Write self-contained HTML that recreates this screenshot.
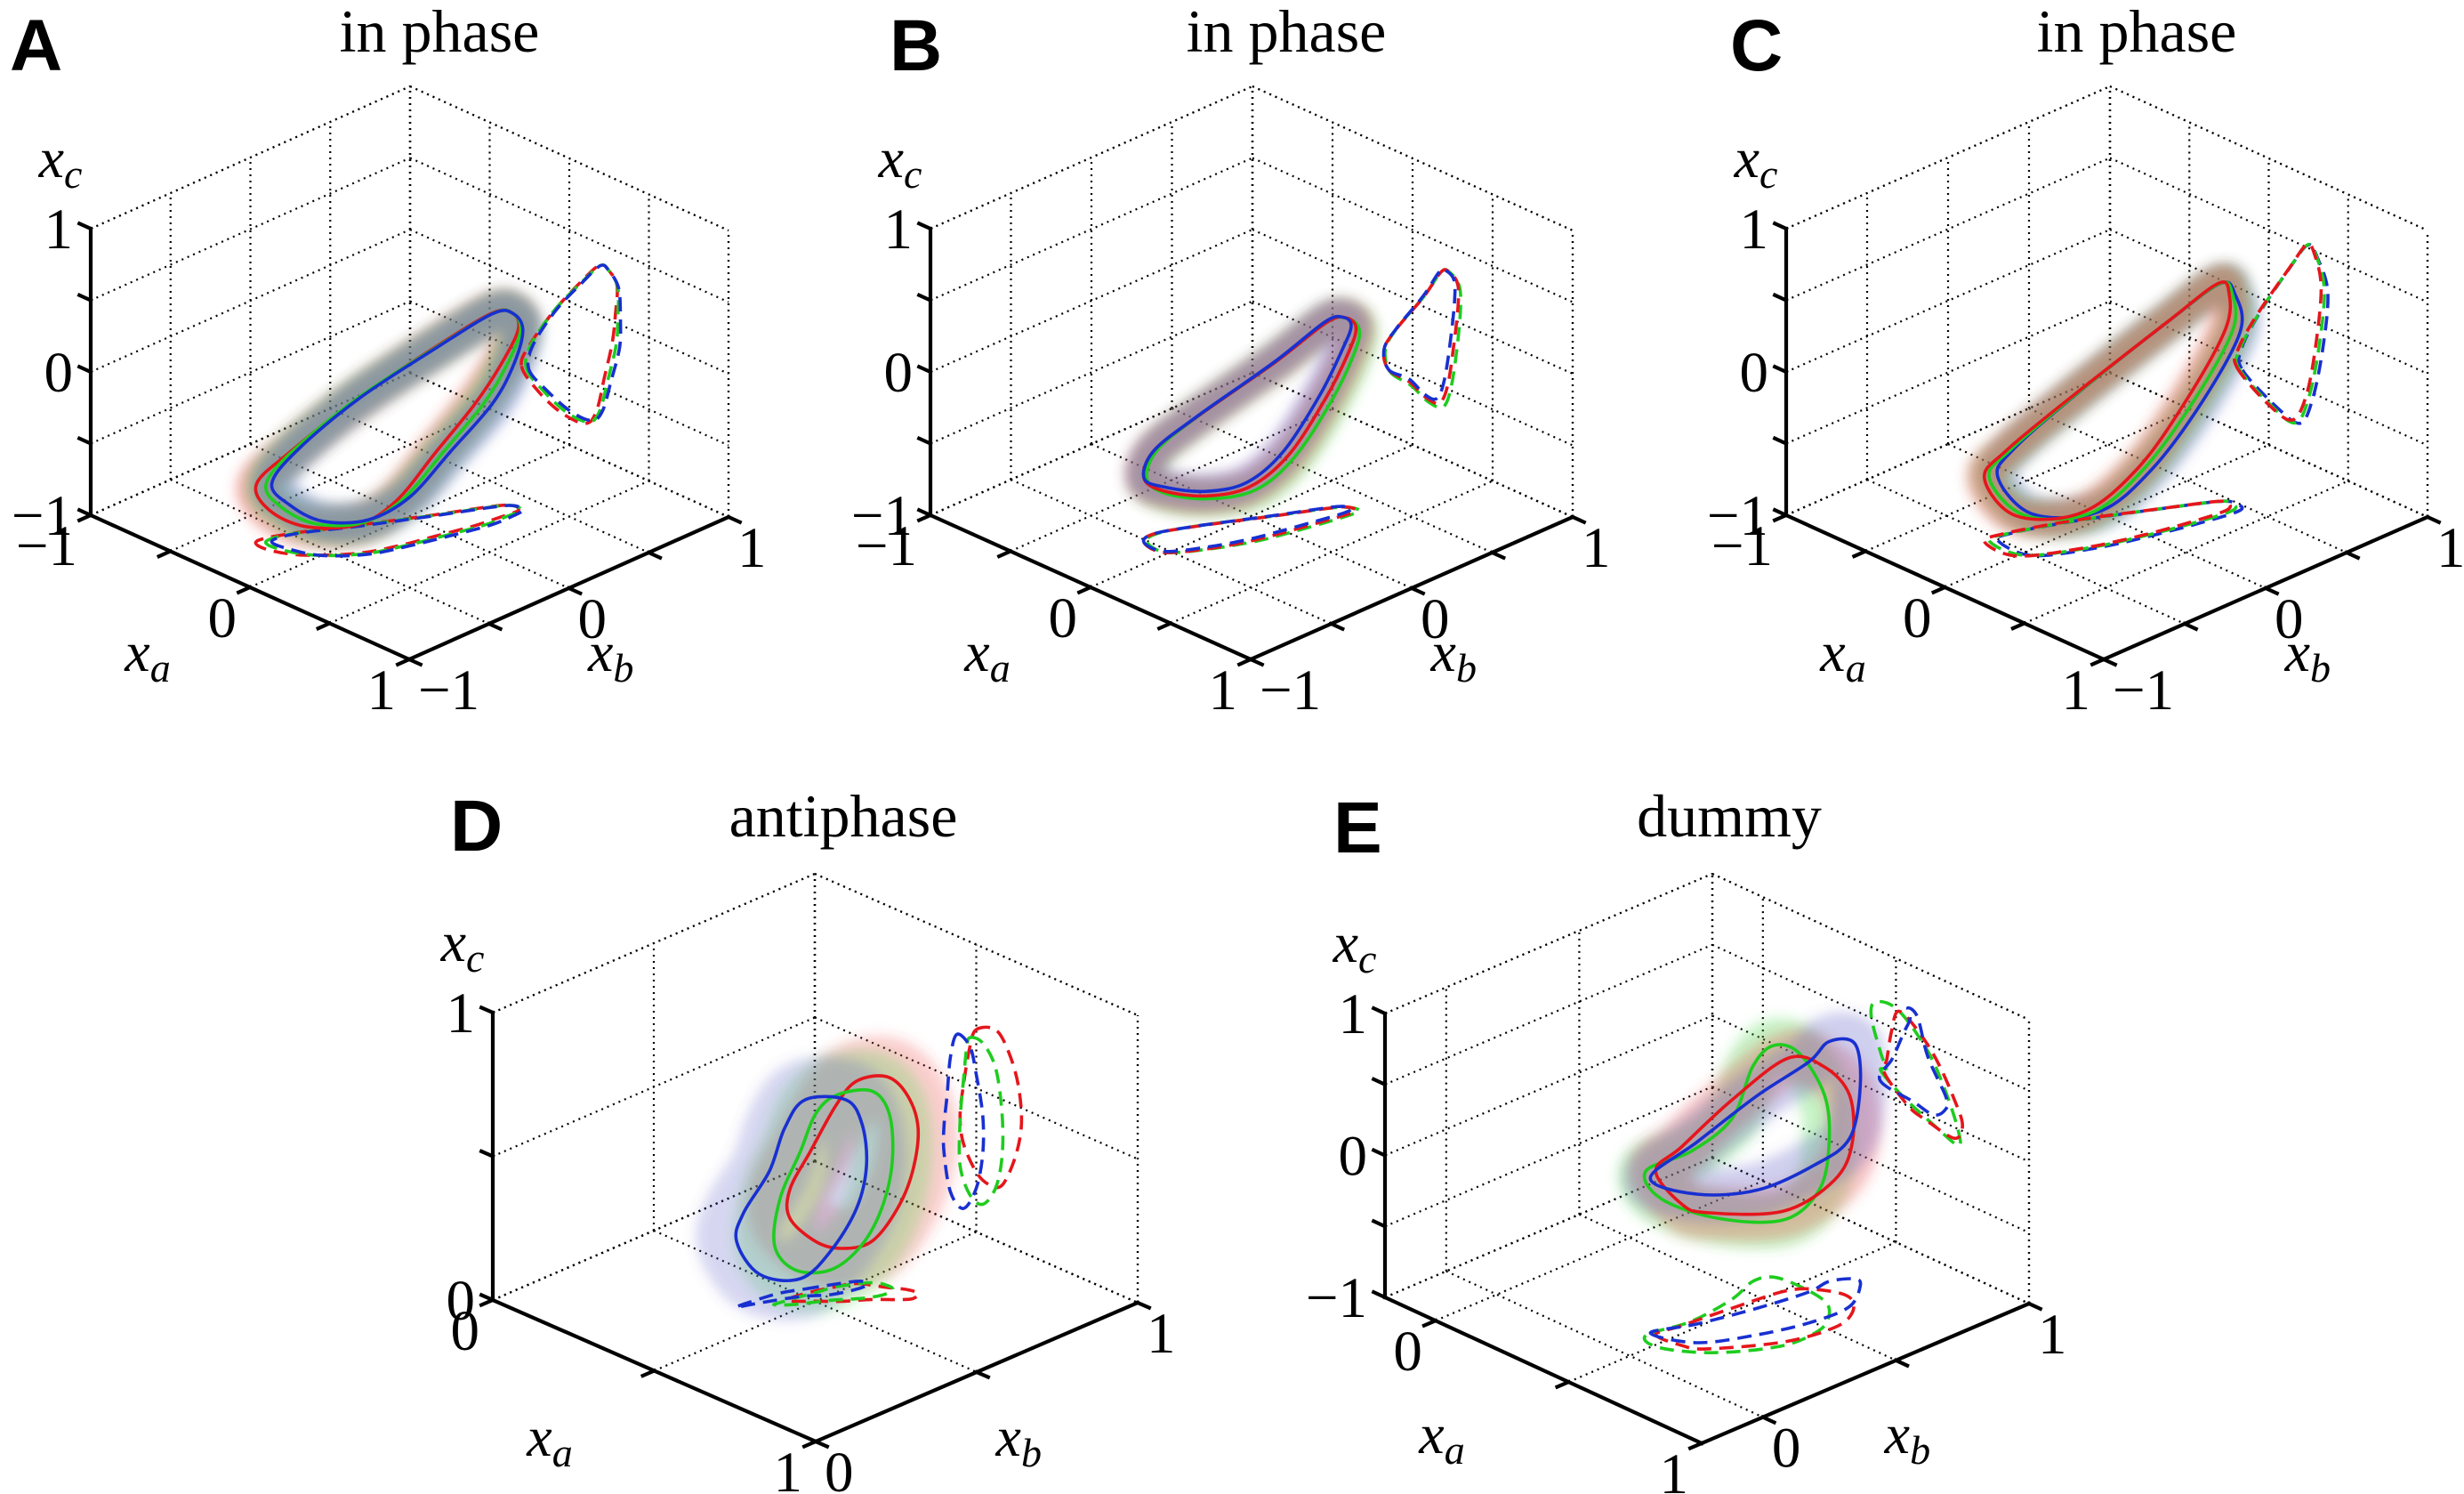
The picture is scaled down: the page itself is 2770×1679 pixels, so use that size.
<!DOCTYPE html>
<html><head><meta charset="utf-8">
<style>
html,body{margin:0;padding:0;background:#fff;}
svg{display:block;}
.tk{font-family:"Liberation Serif",serif;font-size:65px;fill:#000;}
.ttl{font-family:"Liberation Serif",serif;font-size:68px;fill:#000;}
.let{font-family:"Liberation Sans",sans-serif;font-weight:bold;font-size:82px;fill:#000;}
.ax{font-family:"Liberation Serif",serif;font-style:italic;font-size:64px;fill:#000;}
</style></head>
<body>
<svg id="fig" width="2770" height="1679" viewBox="0 0 2770 1679" xmlns="http://www.w3.org/2000/svg">
<defs><filter id="blur" filterUnits="userSpaceOnUse" x="0" y="0" width="2770" height="1679"><feGaussianBlur stdDeviation="7"/></filter></defs>
</svg>
<script>
// ---- data (state-space loops, units of each axis) ----
const A_blue_xa=[-0.254,-0.143,0.004,0.138,0.208,0.265,0.316,0.321,0.31,0.249,0.196,0.079,-0.088,-0.229];
const A_blue_xb=[-0.61,-0.61,-0.55,-0.395,-0.207,-0.006,0.2,0.325,0.4,0.4,0.324,0.089,-0.23,-0.476];
const A_blue_xc=[-0.6,-0.69,-0.76,-0.76,-0.66,-0.41,-0.16,0.04,0.25,0.34,0.35,0.17,-0.11,-0.42];
const A_red_xa=[-0.3,-0.2,-0.05,0.1,0.17,0.22,0.27,0.29,0.3,0.25,0.19,0.07,-0.1,-0.25];
const A_red_xb=[-0.66,-0.68,-0.6,-0.42,-0.25,-0.06,0.14,0.28,0.38,0.4,0.33,0.09,-0.23,-0.5];
const A_red_xc=[-0.6,-0.72,-0.8,-0.8,-0.68,-0.42,-0.15,0.06,0.26,0.34,0.35,0.17,-0.12,-0.43];
const A_green_xa=[-0.27,-0.17,-0.02,0.12,0.19,0.245,0.295,0.305,0.305,0.25,0.195,0.075,-0.095,-0.24];
const A_green_xb=[-0.63,-0.64,-0.57,-0.41,-0.23,-0.03,0.17,0.3,0.39,0.4,0.33,0.09,-0.23,-0.49];
const A_green_xc=[-0.6,-0.7,-0.78,-0.78,-0.67,-0.41,-0.15,0.05,0.25,0.34,0.35,0.17,-0.11,-0.42];

const B_blue_xa=[-0.149,-0.023,0.076,0.151,0.198,0.239,0.263,0.259,0.215,0.171,0.065,-0.102,-0.178];
const B_blue_xb=[-0.52,-0.52,-0.36,-0.18,0,0.185,0.305,0.361,0.354,0.287,0.075,-0.245,-0.43];
const B_blue_xc=[-0.55,-0.55,-0.61,-0.6,-0.45,-0.13,0.15,0.28,0.32,0.3,0.07,-0.24,-0.42];
const B_red_xa=[-0.15,-0.02,0.09,0.17,0.22,0.26,0.285,0.28,0.23,0.18,0.07,-0.1,-0.178];
const B_red_xb=[-0.52,-0.53,-0.37,-0.18,0.01,0.2,0.32,0.37,0.36,0.29,0.075,-0.245,-0.43];
const B_red_xc=[-0.55,-0.57,-0.63,-0.62,-0.47,-0.15,0.13,0.27,0.32,0.3,0.07,-0.24,-0.42];
const B_green_xa=[-0.14,-0.01,0.1,0.19,0.24,0.28,0.3,0.29,0.235,0.18,0.07,-0.1,-0.17];
const B_green_xb=[-0.51,-0.52,-0.36,-0.16,0.03,0.22,0.34,0.38,0.36,0.29,0.075,-0.24,-0.42];
const B_green_xc=[-0.56,-0.59,-0.65,-0.64,-0.48,-0.16,0.12,0.26,0.32,0.3,0.07,-0.24,-0.42];

const C_blue_xa=[-0.166,0.049,0.197,0.276,0.341,0.372,0.307,0.247,0.131,-0.063,-0.173];
const C_blue_xb=[-0.51,-0.506,-0.24,0.005,0.26,0.46,0.49,0.458,0.25,-0.13,-0.41];
const C_blue_xc=[-0.56,-0.71,-0.75,-0.54,-0.15,0.25,0.46,0.52,0.3,-0.12,-0.42];
const C_red_xa=[-0.2,0.0,0.15,0.24,0.3,0.33,0.29,0.24,0.13,-0.07,-0.19];
const C_red_xb=[-0.56,-0.56,-0.3,-0.04,0.21,0.41,0.47,0.45,0.25,-0.13,-0.43];
const C_red_xc=[-0.56,-0.72,-0.75,-0.52,-0.12,0.27,0.47,0.52,0.3,-0.12,-0.42];
const C_green_xa=[-0.19,0.02,0.17,0.255,0.32,0.35,0.3,0.245,0.13,-0.065,-0.18];
const C_green_xb=[-0.54,-0.53,-0.27,-0.02,0.235,0.435,0.48,0.455,0.25,-0.13,-0.42];
const C_green_xc=[-0.56,-0.72,-0.76,-0.53,-0.13,0.26,0.465,0.52,0.3,-0.12,-0.42];

const D_blue_xa=[0.44,0.48,0.5,0.52,0.52,0.5,0.46,0.42,0.4,0.4,0.41,0.42];
const D_blue_xb=[0.528,0.615,0.645,0.639,0.608,0.548,0.494,0.407,0.356,0.378,0.448,0.485];
const D_blue_xc=[0.658,0.636,0.548,0.415,0.281,0.152,0.062,0.1,0.229,0.318,0.434,0.57];
const D_red_xa=[0.5,0.56,0.6,0.63,0.64,0.62,0.58,0.54,0.5,0.46,0.45,0.46,0.48];
const D_red_xb=[0.628,0.662,0.686,0.689,0.662,0.635,0.595,0.541,0.501,0.461,0.471,0.525,0.585];
const D_red_xc=[0.704,0.733,0.676,0.575,0.444,0.317,0.202,0.184,0.208,0.289,0.378,0.49,0.632];
const D_green_xa=[0.48,0.52,0.56,0.58,0.58,0.56,0.52,0.48,0.45,0.45,0.46,0.47];
const D_green_xb=[0.585,0.655,0.67,0.659,0.626,0.582,0.528,0.458,0.424,0.441,0.494,0.531];
const D_green_xc=[0.666,0.667,0.599,0.45,0.302,0.183,0.106,0.12,0.206,0.362,0.505,0.622];

const E_blue_xa=[0.44,0.565,0.642,0.687,0.688,0.62,0.581,0.545,0.553,0.529,0.486];
const E_blue_xb=[0.137,0.186,0.339,0.505,0.638,0.746,0.765,0.704,0.619,0.452,0.265];
const E_blue_xc=[0.09,0.047,0.02,0.1,0.185,0.41,0.656,0.69,0.62,0.5,0.28];
const E_red_xa=[0.457,0.549,0.61,0.719,0.75,0.719,0.65,0.575,0.509,0.483,0.466];
const E_red_xb=[0.14,0.145,0.18,0.359,0.519,0.617,0.676,0.657,0.586,0.401,0.228];
const E_red_xc=[0.154,-0.003,-0.04,-0.078,0.04,0.197,0.423,0.574,0.636,0.468,0.26];
const E_green_xa=[0.443,0.523,0.644,0.734,0.734,0.688,0.62,0.509,0.425,0.407,0.445,0.465];
const E_green_xb=[0.117,0.094,0.184,0.344,0.478,0.561,0.612,0.626,0.613,0.554,0.439,0.265];
const E_green_xc=[0.159,0.053,-0.053,-0.115,-0.01,0.216,0.449,0.642,0.63,0.512,0.273,0.198];

// ---- panel axes ----
const panels=[
 {id:"A",title:"in phase",L:[102,579],F:[460,741],R:[819,581],top:257,ra:[-1,1],rb:[-1,1],rc:[-1,1],
  ta:[-1,-0.5,0,0.5,1],tb:[-1,-0.5,0,0.5,1],tc:[-1,-0.5,0,0.5,1],la:[-1,0,1],lb:[-1,0,1],lc:[-1,0,1],
  letX:11,letY:79,titX:494,titY:58,cloudW:44,cloudO:0.42,
  loops:[["red",A_red_xa,A_red_xb,A_red_xc],["green",A_green_xa,A_green_xb,A_green_xc],["blue",A_blue_xa,A_blue_xb,A_blue_xc]]},
 {id:"B",title:"in phase",L:[1046,579],F:[1406,741],R:[1768,581],top:257,ra:[-1,1],rb:[-1,1],rc:[-1,1],
  ta:[-1,-0.5,0,0.5,1],tb:[-1,-0.5,0,0.5,1],tc:[-1,-0.5,0,0.5,1],la:[-1,0,1],lb:[-1,0,1],lc:[-1,0,1],
  letX:1000,letY:79,titX:1446,titY:58,cloudW:40,cloudO:0.38,
  loops:[["green",B_green_xa,B_green_xb,B_green_xc],["red",B_red_xa,B_red_xb,B_red_xc],["blue",B_blue_xa,B_blue_xb,B_blue_xc]]},
 {id:"C",title:"in phase",L:[2008,579],F:[2365,741],R:[2729,581],top:257,ra:[-1,1],rb:[-1,1],rc:[-1,1],
  ta:[-1,-0.5,0,0.5,1],tb:[-1,-0.5,0,0.5,1],tc:[-1,-0.5,0,0.5,1],la:[-1,0,1],lb:[-1,0,1],lc:[-1,0,1],
  letX:1945,letY:79,titX:2402,titY:58,cloudW:40,cloudO:0.4,
  loops:[["blue",C_blue_xa,C_blue_xb,C_blue_xc],["green",C_green_xa,C_green_xb,C_green_xc],["red",C_red_xa,C_red_xb,C_red_xc]]},
 {id:"D",title:"antiphase",L:[554,1461],F:[917,1620],R:[1279,1464],top:1138,ra:[0,1],rb:[0,1],rc:[0,1],
  ta:[0,0.5,1],tb:[0,0.5,1],tc:[0,0.5,1],la:[0,1],lb:[0,1],lc:[0,1],
  letX:506,letY:956,titX:948,titY:940,cloudW:90,cloudO:0.25,
  loops:[["red",D_red_xa,D_red_xb,D_red_xc],["green",D_green_xa,D_green_xb,D_green_xc],["blue",D_blue_xa,D_blue_xb,D_blue_xc]]},
 {id:"E",title:"dummy",L:[1557,1458],F:[1913,1622],R:[2281,1465],top:1139,ra:[-0.19,1],rb:[-0.23,1],rc:[-1,1],
  ta:[0,0.5,1],tb:[0,0.5,1],tc:[-1,-0.5,0,0.5,1],la:[0,1],lb:[0,1],lc:[-1,0,1],
  letX:1499,letY:958,titX:1944,titY:940,cloudW:60,cloudO:0.3,
  loops:[["green",E_green_xa,E_green_xb,E_green_xc],["red",E_red_xa,E_red_xb,E_red_xc],["blue",E_blue_xa,E_blue_xb,E_blue_xc]]}
];
const COL={red:"#e5161c",green:"#1fcc1f",blue:"#1830d0"};
const CLOUD={red:"#f04040",green:"#40d840",blue:"#6060c8"};

const NS="http://www.w3.org/2000/svg";
const svg=document.getElementById("fig");
function mk(tag,attrs,parent){const e=document.createElementNS(NS,tag);for(const k in attrs)e.setAttribute(k,attrs[k]);(parent||svg).appendChild(e);return e;}
function fmt(v){return v<0?"−"+Math.abs(v):String(v);}

function closedPath(pts){
  const n=pts.length;let d="M"+pts[0][0].toFixed(1)+","+pts[0][1].toFixed(1);
  for(let i=0;i<n;i++){
    const p0=pts[(i-1+n)%n],p1=pts[i],p2=pts[(i+1)%n],p3=pts[(i+2)%n];
    const c1=[p1[0]+(p2[0]-p0[0])/6,p1[1]+(p2[1]-p0[1])/6];
    const c2=[p2[0]-(p3[0]-p1[0])/6,p2[1]-(p3[1]-p1[1])/6];
    d+=" C"+c1[0].toFixed(1)+","+c1[1].toFixed(1)+" "+c2[0].toFixed(1)+","+c2[1].toFixed(1)+" "+p2[0].toFixed(1)+","+p2[1].toFixed(1);
  }
  return d+"Z";
}

panels.forEach(p=>{
  const g=mk("g",{});
  
  
  const [Lx,Ly]=p.L,[Fx,Fy]=p.F,[Rx,Ry]=p.R;
  const H=p.top-Ly;
  const n=(v,r)=>(v-r[0])/(r[1]-r[0]);
  const P=(a,b,c)=>{const na=n(a,p.ra),nb=n(b,p.rb),nc=n(c,p.rc);
    return [Lx+na*(Fx-Lx)+nb*(Rx-Fx), Ly+na*(Fy-Ly)+nb*(Ry-Fy)+nc*H];};
  const [a0,a1]=p.ra,[b0,b1]=p.rb,[c0,c1]=p.rc;
  const line=(q1,q2,attrs,name)=>{const e=mk("line",Object.assign({x1:q1[0],y1:q1[1],x2:q2[0],y2:q2[1]},attrs),g);
    
    return e;};
  const dot={stroke:"#000","stroke-width":2.2,"stroke-dasharray":"2 5"};
  const ga=p.ta.concat([a0,a1]),gb=p.tb.concat([b0,b1]),gc=p.tc.concat([c0,c1]);
  ga.forEach(t=>{line(P(t,b0,c0),P(t,b1,c0),dot,'grid-floor-line');line(P(t,b1,c0),P(t,b1,c1),dot,'grid-wall-line');});
  gb.forEach(t=>{line(P(a0,t,c0),P(a1,t,c0),dot,'grid-floor-line');line(P(a0,t,c0),P(a0,t,c1),dot,'grid-wall-line');});
  gc.forEach(t=>{line(P(a0,b0,t),P(a0,b1,t),dot,'grid-wall-line');line(P(a0,b1,t),P(a1,b1,t),dot,'grid-wall-line');});
  // clouds
  p.loops.forEach(([col,xa,xb,xc])=>{
    const pts=xa.map((v,i)=>P(v,xb[i],xc[i]));
    const e=mk("path",{d:closedPath(pts),fill:"none",stroke:CLOUD[col],"stroke-width":p.cloudW,"stroke-opacity":p.cloudO,filter:"url(#blur)","stroke-linejoin":"round"},g);
    
    
  });
  // projections (dashed)
  p.loops.forEach(([col,xa,xb,xc])=>{
    const fl=xa.map((v,i)=>P(v,xb[i],c0));
    const e1=mk("path",{d:closedPath(fl),fill:"none",stroke:COL[col],"stroke-width":3.6,"stroke-dasharray":"16 9"},g);
    
    
    const wl=xa.map((v,i)=>P(v,b1,xc[i]));
    const e2=mk("path",{d:closedPath(wl),fill:"none",stroke:COL[col],"stroke-width":3.6,"stroke-dasharray":"16 9"},g);
    
    
  });
  p.loops.forEach(([col,xa,xb,xc])=>{
    const pts=xa.map((v,i)=>P(v,xb[i],xc[i]));
    const e=mk("path",{d:closedPath(pts),fill:"none",stroke:COL[col],"stroke-width":3.6},g);
    
    
  });
  // axes
  const sol={stroke:"#000","stroke-width":4.2,"stroke-linecap":"square"};
  line(P(a0,b0,c0),P(a0,b0,c1),sol,'z-axis');
  line(P(a0,b0,c0),P(a1,b0,c0),sol,'xa-axis');
  line(P(a1,b0,c0),P(a1,b1,c0),sol,'xb-axis');
  const unit=(v)=>{const l=Math.hypot(v[0],v[1]);return [v[0]/l,v[1]/l];};
  const dA=unit([Fx-Lx,Fy-Ly]),dB=unit([Rx-Fx,Ry-Fy]);
  const T=14;
  p.tc.forEach(t=>{const q=P(a0,b0,t);line(q,[q[0]-dA[0]*T,q[1]-dA[1]*T],sol,'z-tick');});
  p.ta.forEach(t=>{const q=P(t,b0,c0);line(q,[q[0]-dB[0]*T,q[1]-dB[1]*T],sol,'xa-tick');});
  p.tb.forEach(t=>{const q=P(a1,t,c0);line(q,[q[0]+dA[0]*T,q[1]+dA[1]*T],sol,'xb-tick');});
  // tick labels
  p.lc.forEach(t=>{const q=P(a0,b0,t);const e=mk("text",{x:q[0]-20,y:q[1]+22,"text-anchor":"end",class:"tk"},g);e.textContent=fmt(t);
    
    });
  p.la.forEach(t=>{const q=P(t,b0,c0);const e=mk("text",{x:q[0]-15,y:q[1]+56,"text-anchor":"end",class:"tk"},g);e.textContent=fmt(t);
    
    });
  p.lb.forEach(t=>{const q=P(a1,t,c0);const e=mk("text",{x:q[0]+10,y:q[1]+56,"text-anchor":"start",class:"tk"},g);e.textContent=fmt(t);
    
    });
  // axis titles
  const axT=(x,y,sub,name)=>{const e=mk("text",{x:x,y:y,"text-anchor":"middle",class:"ax"},g);
    
    
    const s1=mk("tspan",{},e);s1.textContent="x";
    const s2=mk("tspan",{dy:12,"font-size":"46"},e);s2.textContent=sub;};
  axT(Lx-34,p.top-58,"c",'xc-axis-title');
  axT(Lx+64,Ly+175,"a",'xa-axis-title');
  axT(Lx+(Fx-Lx)+(Rx-Fx)*0.52+40,Ly+175,"b",'xb-axis-title');
  // titles
  const tl=mk("text",{x:p.titX,y:p.titY,"text-anchor":"middle",class:"ttl"},g);tl.textContent=p.title;
  
  
  const lt=mk("text",{x:p.letX,y:p.letY,class:"let"},g);lt.textContent=p.id;
  
  
});
</script>
</body></html>
